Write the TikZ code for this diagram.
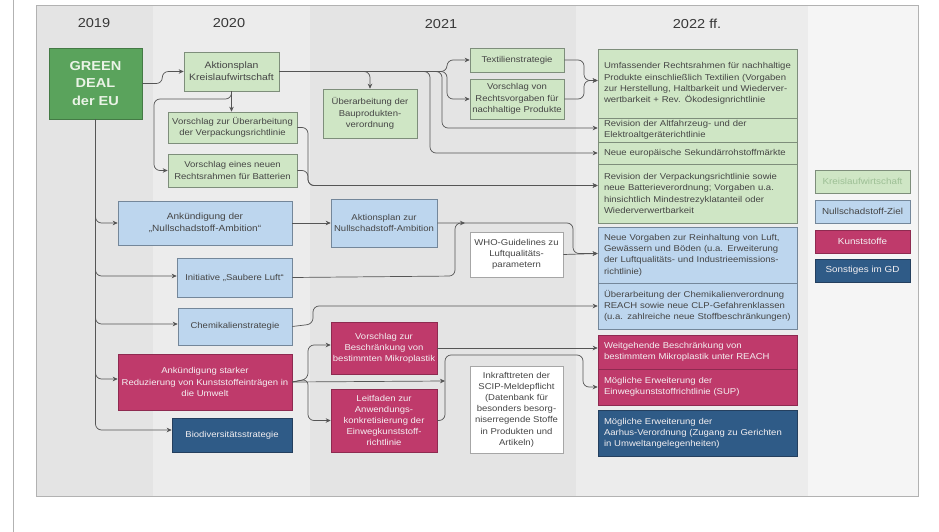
\documentclass[tikz,border=0pt]{standalone}
\usepackage{fontspec}
\setmainfont{Liberation Sans}[FakeStretch=1.12]
\usetikzlibrary{arrows.meta,calc}
\definecolor{gfill}{HTML}{CFE6C5}
\definecolor{gdraw}{HTML}{7E8E7B}
\definecolor{gdfill}{HTML}{5AA35C}
\definecolor{gdtxt}{HTML}{EAF3E6}
\definecolor{bfill}{HTML}{BDD6EE}
\definecolor{bdraw}{HTML}{74879A}
\definecolor{pfill}{HTML}{BF3A6B}
\definecolor{pdraw}{HTML}{8E2A50}
\definecolor{dbfill}{HTML}{2F5B87}
\definecolor{dbdraw}{HTML}{243F5E}
\definecolor{txt}{HTML}{454545}
\definecolor{wtxt}{HTML}{F4F0F2}
\definecolor{conncol}{HTML}{555555}
\definecolor{panelA}{HTML}{E4E4E4}
\definecolor{panelB}{HTML}{ECECEC}
\definecolor{panelC}{HTML}{F5F5F5}
\definecolor{legtxt}{HTML}{9DBF95}
\begin{document}
\begin{tikzpicture}[x=1pt,y=-1pt,
  box/.style={rectangle, inner sep=0pt, line width=0.6pt, align=center,
    font=\fontsize{8.5}{11.2}\selectfont, text=txt},
  gbox/.style={box, fill=gfill, draw=gdraw},
  bbox/.style={box, fill=bfill, draw=bdraw},
  pbox/.style={box, fill=pfill, draw=pdraw, text=wtxt},
  dbox/.style={box, fill=dbfill, draw=dbdraw, text=wtxt},
  wbox/.style={box, fill=white, draw=gray!70},
  rcol/.style={inner xsep=6pt, inner ysep=0pt, text width=187pt, align=left, minimum width=199pt},
  sz/.style n args={2}{minimum width=#1pt, minimum height=#2pt},
  year/.style={font=\fontsize{13}{15}\selectfont, text=black!78},
  legbox/.style={box, minimum width=95pt, minimum height=23pt, font=\fontsize{8.8}{10}\selectfont},
  line/.style={draw=conncol, line width=0.7pt, rounded corners=6pt},
  arr/.style={line, -{Stealth[length=5pt,width=4.5pt]}}
]
\useasboundingbox (0,0) rectangle (939,532);
\fill[white] (0,0) rectangle (939,532);
\draw[gray!60, line width=0.5pt] (13,0) -- (13,532);
% panel and bands
\fill[panelA] (36,5) rectangle (918,496);
\fill[panelB] (153,5) rectangle (310,496);
\fill[panelB] (576,5) rectangle (808,496);
\fill[panelC] (808,5) rectangle (918,496);
\draw[gray!60, line width=0.5pt] (36,5) rectangle (918,496);

% years
\node[year] (y19) at (94,23) {2019};
\node[year] (y20) at (229,23) {2020};
\node[year] (y21) at (441,24) {2021};
\node[year] (y22) at (697,24) {2022 ff.};

% left / middle nodes
\node[box, fill=gdfill, draw=gdfill!75!black, sz={93}{71}, text=gdtxt,
  font=\fontsize{13}{17.8}\selectfont\bfseries] (gd) at (95.5,83.5) {GREEN\\DEAL\\der EU};
\node[gbox, sz={95}{39}, font=\fontsize{9.3}{11.7}\selectfont] (akk) at (231.5,71.5) {Aktionsplan\\Kreislaufwirtschaft};
\node[gbox, sz={129}{31}] (verp) at (232.5,127.5) {Vorschlag zur Überarbeitung\\der Verpackungsrichtlinie};
\node[gbox, sz={129}{33}] (batt) at (232.5,170.5) {Vorschlag eines neuen\\Rechtsrahmen für Batterien};
\node[gbox, sz={94}{49}] (bau) at (370,113.5) {Überarbeitung der\\Bauprodukten-\\verordnung};
\node[gbox, sz={94}{24}] (textil) at (517,60) {Textilienstrategie};
\node[gbox, sz={94}{40}] (rvor) at (517,99) {Vorschlag von\\Rechtsvorgaben für\\nachhaltige Produkte};

\node[bbox, sz={174}{44}, font=\fontsize{9}{11.7}\selectfont] (nsa) at (205,223) {Ankündigung der\\„Nullschadstoff-Ambition“};
\node[bbox, sz={106}{48}] (anz) at (384,223) {Aktionsplan zur\\Nullschadstoff-Ambition};
\node[bbox, sz={115}{39}] (luft) at (234.5,277.5) {Initiative „Saubere Luft“};
\node[bbox, sz={114}{37}] (chem) at (235,326.5) {Chemikalienstrategie};
\node[wbox, sz={93}{45}] (who) at (516.5,254.5) {WHO-Guidelines zu\\Luftqualitäts-\\parametern};

\node[pbox, sz={174}{56}] (kun) at (205,382) {Ankündigung starker\\Reduzierung von Kunststoffeinträgen in\\die Umwelt};
\node[dbox, sz={120}{34}] (bio) at (232,435) {Biodiversitätsstrategie};
\node[pbox, sz={106}{52}] (mik) at (384,348) {Vorschlag zur\\Beschränkung von\\bestimmten Mikroplastik};
\node[pbox, sz={106}{63}] (leit) at (384,420.5) {Leitfaden zur\\Anwendungs-\\konkretisierung der\\Einwegkunststoff-\\richtlinie};
\node[wbox, sz={93}{87}] (scip) at (516.5,409.5) {Inkrafttreten der\\SCIP-Meldepflicht\\(Datenbank für\\besonders besorg-\\niserregende Stoffe\\in Produkten und\\Artikeln)};

% right column
\node[gbox, rcol, minimum height=69pt] (r1) at (697.5,83.5) {Umfassender Rechtsrahmen für nachhaltige\\Produkte einschließlich Textilien (Vorgaben\\zur Herstellung, Haltbarkeit und Wiederver-\\wertbarkeit + Rev. Ökodesignrichtlinie};
\node[gbox, rcol, minimum height=24pt] (r2) at (697.5,130) {Revision der Altfahrzeug- und der\\Elektroaltgeräterichtlinie};
\node[gbox, rcol, minimum height=22pt] (r3) at (697.5,153) {Neue europäische Sekundärrohstoffmärkte};
\node[gbox, rcol, minimum height=59pt] (r4) at (697.5,193.5) {Revision der Verpackungsrichtlinie sowie\\neue Batterieverordnung; Vorgaben u.a.\\hinsichtlich Mindestrezyklatanteil oder\\Wiederverwertbarkeit};
\node[bbox, rcol, minimum height=56pt] (r5) at (697.5,255) {Neue Vorgaben zur Reinhaltung von Luft,\\Gewässern und Böden (u.a. Erweiterung\\der Luftqualitäts- und Industrieemissions-\\richtlinie)};
\node[bbox, rcol, minimum height=46pt] (r6) at (697.5,306) {Überarbeitung der Chemikalienverordnung\\REACH sowie neue CLP-Gefahrenklassen\\(u.a. zahlreiche neue Stoffbeschränkungen)};
\node[pbox, rcol, minimum height=34pt] (p1) at (697.5,352) {Weitgehende Beschränkung von\\bestimmtem Mikroplastik unter REACH};
\node[pbox, rcol, minimum height=36pt] (p2) at (697.5,387) {Mögliche Erweiterung der\\Einwegkunststoffrichtlinie (SUP)};
\node[dbox, rcol, minimum height=46pt] (db) at (697.5,433) {Mögliche Erweiterung der\\Aarhus-Verordnung (Zugang zu Gerichten\\in Umweltangelegenheiten)};

% legend
\node[legbox, fill=gfill, draw=gdraw, text=legtxt] (lg1) at (862.5,181.5) {Kreislaufwirtschaft};
\node[legbox, fill=bfill, draw=bdraw] (lg2) at (862.5,211.5) {Nullschadstoff-Ziel};
\node[legbox, fill=pfill, draw=pdraw, text=wtxt] (lg3) at (862.5,241.5) {Kunststoffe};
\node[legbox, fill=dbfill, draw=dbdraw, text=wtxt] (lg4) at (862.5,270.5) {Sonstiges im GD};

% junction coordinates
\coordinate (j1) at (465,223);
\coordinate (j2) at (445,381);

% connectors
\draw[arr] (gd.east) -- ++(20,0) |- (akk.west);
\draw[arr] (gd.south) |- (nsa.west);
\draw[arr] (gd.south) |- ($(luft.west)+(0,-1.5)$);
\draw[arr] (gd.south) |- ($(chem.west)+(0,-2.5)$);
\draw[arr] (gd.south) |- ($(kun.west)+(0,-3)$);
\draw[arr] (gd.south) |- ($(bio.west)+(0,-5)$);

\draw[arr] (akk.south) -- (akk.south |- verp.north);
\draw[arr] (akk.south) |- (154,99) |- (batt.west);
\draw[arr] (akk.east) -| (bau.north);
\draw[arr] (akk.east) -- (430,71.5) |- (r3.west);
\draw[arr] (akk.east) -- (442,71.5) |- ($(r2.west)+(0,-2)$);
\draw[arr] (akk.east) -- (447,71.5) |- (textil.west);
\draw[arr] (akk.east) -- (447,71.5) |- (rvor.west);
\draw[arr] (textil.east) -- (584,60) |- ($(r1.west)+(0,-3)$);
\draw[arr] (rvor.east) -- (584,99) |- ($(r1.west)+(0,-3)$);

\draw[arr] (verp.east) -- (308,127.5) |- ($(r4.west)+(0,-8)$);
\draw[arr] (batt.east) -- (308,170.5) |- ($(r4.west)+(0,-8)$);

\draw[arr] (nsa.east) -- (anz.west);
\draw[arr] (anz.east) -- (573,223) |- ($(r5.west)+(0,-1.5)$);
\draw[arr] (luft.east) -- (455,276) |- (j1);
\draw[arr] (who.east) -- ($(r5.west)+(0,-1.5)$);

\draw[arr] (chem.east) -- (313,324) |- (r6.west);

\draw[arr] (kun.east) -- (308,379) |- ($(mik.west)+(0,-3)$);
\draw[arr] (kun.east) -- (308,379) |- (leit.west);
\draw[arr] (kun.east) -- (j2);
\draw[arr] (mik.east) -- ($(mik.east -| p1.west)$);
\draw[arr] (leit.east) -- (445,420.5) -- (445,355) -- (583,355) |- (p2.west);
\end{tikzpicture}
\end{document}
